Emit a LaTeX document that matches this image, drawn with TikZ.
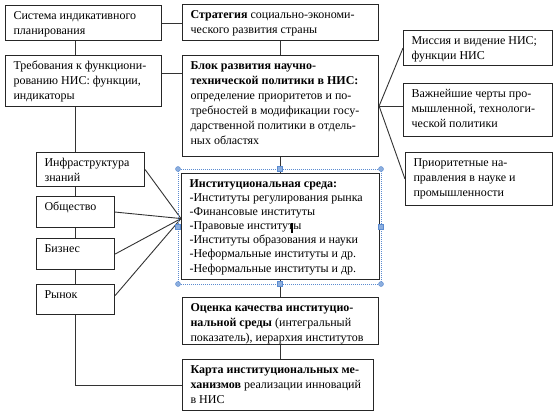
\documentclass[tikz,border=0pt]{standalone}
\usepackage{fontspec}
\setmainfont{Liberation Serif}
\definecolor{hnd}{RGB}{91,139,208}
\hyphenpenalty=10000
\exhyphenpenalty=10000
\newcommand\mkbox[6]{\node[bx, minimum width=#4pt, minimum height=#5pt] (#1) at (#2,#3) {\hspace*{8pt}\parbox[c][\dimexpr #5pt-6pt\relax][t]{\dimexpr #4pt-10pt\relax}{\raggedright\strut #6}\hspace*{2pt}};}
\begin{document}
\begin{tikzpicture}[x=1pt,y=-1pt,
  bx/.style={draw=black!85, line width=1.1pt, anchor=north west, inner xsep=0pt, inner ysep=3pt, font=\fontsize{12}{15}\selectfont},
  ln/.style={draw=black!80, line width=0.9pt},
  sel/.style={draw=hnd, line width=0.6pt, dash pattern=on 1pt off 1pt},
  hcirc/.style={circle, fill=hnd!70, draw=hnd, line width=0.4pt, inner sep=0pt, minimum size=5pt},
  hsq/.style={rectangle, fill=hnd!70, draw=hnd, line width=0.4pt, inner sep=0pt, minimum size=5pt}]
\fill[white] (0,0) rectangle (559,416);
\useasboundingbox (0,0) rectangle (559,416);

\mkbox{A}{5}{5}{156}{35}{Система индикативного\\планирования}
\mkbox{B}{182}{4}{196}{36}{\textbf{Стратегия} социально-экономи-\\ческого развития страны}
\mkbox{C}{5}{55}{156}{51}{Требования к функциони-\\рованию НИС: функции,\\индикаторы}
\mkbox{D}{182}{55}{196}{101}{\textbf{Блок развития научно-}\\\textbf{технической политики в НИС:}\\определение приоритетов и по-\\требностей в модификации госу-\\дарственной политики в отдель-\\ных областях}
\mkbox{E}{403}{30}{149}{35}{Миссия и видение НИС;\\функции НИС}
\mkbox{F}{403}{83}{149}{53}{Важнейшие черты про-\\мышленной, технологи-\\ческой политики}
\mkbox{G}{405}{152}{147}{53}{Приоритетные на-\\правления в науке и\\промышленности}
\mkbox{H}{36}{152}{108}{34}{Инфраструктура\\знаний}
\mkbox{I}{36}{196}{78}{31}{Общество}
\mkbox{J}{36}{238}{78}{31}{Бизнес}
\mkbox{K}{36}{284}{78}{30}{Рынок}
\node[bx, font=\fontsize{12}{14}\selectfont, inner ysep=4pt, minimum width=198pt, minimum height=106pt] (L) at (181,173) {\hspace*{8pt}\parbox[c][98pt][t]{188pt}{\raggedright\strut\textbf{Институциональная среда:}\\-Институты регулирования рынка\\-Финансовые институты\\-Правовые институты\\-Институты образования и науки\\-Неформальные институты и др.\\[1pt]-Неформальные институты и др.}\hspace*{2pt}};
\mkbox{M}{182}{297}{196}{47}{\textbf{Оценка качества институцио-}\\\textbf{нальной среды} (интегральный\\показатель), иерархия институтов}
\mkbox{N}{182}{359}{191}{51}{\textbf{Карта институциональных ме-}\\\textbf{ханизмов} реализации инноваций\\в НИС}

\coordinate (cd) at (0,73);
\draw[ln] (A.east) -- (A.east -| B.west);
\draw[ln] (A.south -| I.north) -- (C.north -| I.north);
\draw[ln] (B.south) -- (B.south |- D.north);
\draw[ln] (C.east |- cd) -- (D.west |- cd);
\draw[ln] (C.south -| I.north) -- (H.north -| I.north);
\draw[ln] (H.south -| I.north) -- (I.north);
\draw[ln] (I.south) -- (J.north);
\draw[ln] (J.south) -- (K.north);
\draw[ln] (K.south) |- (N.west);
\draw[ln] (D.east) -- (E.west);
\draw[ln] (D.east) -- (D.east -| F.west);
\draw[ln] (D.east) -- (G.west);
\coordinate (hub) at ([yshift=8pt]L.west);
\draw[ln] (H.east) -- (hub);
\draw[ln] (I.east) -- (hub);
\draw[ln] (J.east) -- (hub);
\draw[ln] ([yshift=4pt]K.east) -- (hub);
\draw[ln] (D.south) -- (L.north);
\draw[ln] (L.south) -- (M.north);
\draw[ln] (M.south) -- (M.south |- N.north);

% selection frame of the text box
\draw[sel] (178,169) rectangle (381,284);
\node[hcirc] (s1) at (178,169) {};
\node[hcirc] (s2) at (381,169) {};
\node[hcirc] (s3) at (178,284) {};
\node[hcirc] (s4) at (381,284) {};
\node[hsq] (s5) at (279.5,169) {};
\node[hsq] (s6) at (279.5,284) {};
\node[hsq] (s7) at (178,226.5) {};
\node[hsq] (s8) at (381,226.5) {};
\draw[line width=1.2pt] (292,223) -- (292,233);
\end{tikzpicture}
\end{document}
